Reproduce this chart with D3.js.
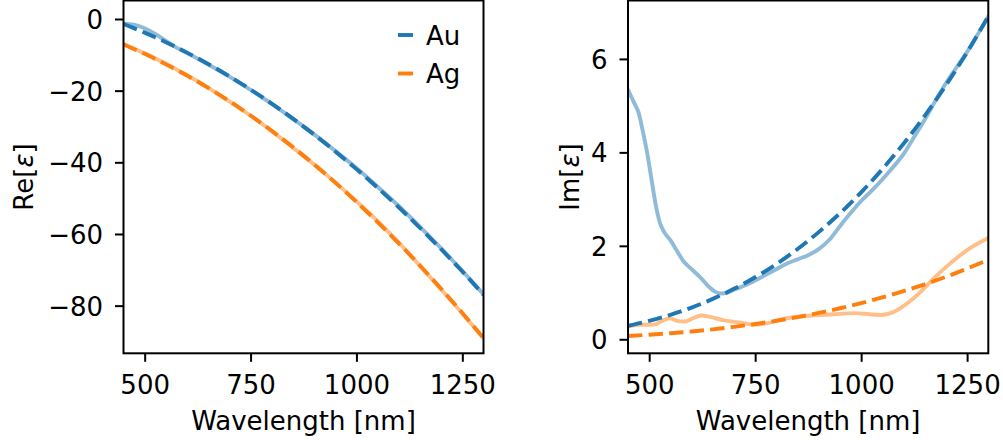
<!DOCTYPE html>
<html><head><meta charset="utf-8">
<script src="https://cdn.jsdelivr.net/npm/d3@7"></script>
<style>
html,body{margin:0;padding:0;background:#fff;}
text{font-family:"DejaVu Sans",sans-serif;font-size:26px;fill:#000;}
</style></head>
<body><svg id="c" width="1003" height="440"></svg>
<script>
// ---- data ----
const xTicks = [500, 750, 1000, 1250];
const reTicks = [0, -20, -40, -60, -80];
const imTicks = [0, 2, 4, 6];
const seriesNames = ["Au", "Ag"];

// fitted (dashed) curves, sampled every 50 nm
const fitWl = [450,500,550,600,650,700,750,800,850,900,950,1000,1050,1100,1150,1200,1250,1300];
const auReFit = [-1.39,-3.8,-6.47,-9.39,-12.56,-15.99,-19.68,-23.61,-27.8,-32.25,-36.95,-41.9,-47.1,-52.57,-58.28,-64.25,-70.48,-76.95];
const agReFit = [-7.1,-9.72,-12.61,-15.78,-19.22,-22.94,-26.93,-31.2,-35.75,-40.57,-45.67,-51.04,-56.69,-62.61,-68.81,-75.28,-82.03,-89.06];
const auImFit = [0.287,0.393,0.523,0.679,0.864,1.079,1.327,1.61,1.931,2.293,2.696,3.145,3.641,4.186,4.783,5.435,6.142,6.91];
const agImFit = [0.07,0.097,0.129,0.167,0.213,0.266,0.327,0.396,0.475,0.564,0.664,0.774,0.896,1.03,1.177,1.337,1.512,1.7];

// measured (light solid) curves
const auReWl = [450,475,500,525,550,575,600,650,700,750,800,850,900,950,1000,1050,1100,1150,1200,1250,1300];
const auReMeas = [-1.3,-1.6,-2.6,-4.2,-6.1,-8.0,-9.5,-12.7,-16.1,-19.8,-23.7,-27.9,-32.2,-36.8,-41.6,-46.8,-52.2,-58.0,-64.0,-70.3,-76.8];
const agReWl = [450,500,550,600,650,700,750,800,850,900,950,1000,1050,1100,1150,1200,1250,1300];
const agReMeas = [-7.0,-9.6,-12.5,-15.7,-19.2,-23.0,-27.0,-31.3,-35.9,-40.6,-45.6,-50.9,-56.4,-62.4,-68.9,-75.5,-82.2,-89.0];
const auImWl = [450,465,475,485,495,505,515,525,535,550,565,580,600,620,640,655,670,685,700,725,750,775,800,825,850,875,900,925,950,975,1000,1025,1050,1075,1100,1125,1150,1175,1200,1250,1300];
const auImMeas = [5.34,5.05,4.85,4.45,4.0,3.45,2.9,2.5,2.3,2.12,1.9,1.68,1.5,1.33,1.13,1.02,0.98,1.0,1.06,1.15,1.26,1.38,1.5,1.62,1.71,1.8,1.93,2.13,2.42,2.7,2.96,3.18,3.42,3.68,3.96,4.33,4.7,5.1,5.48,6.15,6.91];
const agImWl = [450,475,500,515,530,548,568,584,603,623,643,674,713,745,776,824,871,934,983,1046,1078,1109,1141,1172,1211,1250,1300];
const agImMeas = [0.27,0.31,0.31,0.32,0.39,0.45,0.39,0.38,0.45,0.51,0.48,0.41,0.36,0.31,0.34,0.45,0.5,0.535,0.56,0.52,0.59,0.77,1.02,1.31,1.63,1.91,2.17];

const colors = ["#1f77b4", "#ff7f0e"];

// ---- drawing ----
const svg = d3.select("#c");
const zip = (a, b) => a.map((v, i) => [v, b[i]]);
const LW = 3.9, SW = 2.0;

function panel(id, x0, x1, yDomain, yTicks, label, labelX, curves) {
  const y0 = 0.5, y1 = 353.3;
  const x = d3.scaleLinear().domain([450, 1300]).range([x0, x1]);
  const y = d3.scaleLinear().domain(yDomain).range([y1, y0]);
  svg.append("clipPath").attr("id", id).append("rect")
    .attr("x", x0).attr("y", y0).attr("width", x1 - x0).attr("height", y1 - y0);
  const g = svg.append("g").attr("clip-path", `url(#${id})`);
  const line = d3.line().x(d => x(d[0])).y(d => y(d[1])).curve(d3.curveMonotoneX);
  curves.forEach(c => {
    g.append("path").datum(c.data).attr("d", line)
      .attr("fill", "none").attr("stroke", c.color)
      .attr("stroke-width", LW)
      .attr("stroke-opacity", c.dashed ? 1 : 0.5)
      .attr("stroke-dasharray", c.dashed ? "14.4,6.2" : null)
      .attr("stroke-linecap", c.dashed ? "butt" : "square")
      .attr("stroke-linejoin", "round");
  });
  // axes
  const xa = svg.append("g").attr("transform", `translate(0,${y1})`)
    .call(d3.axisBottom(x).tickValues(xTicks).tickSize(8.5).tickPadding(6).tickFormat(d3.format("d")));
  const ya = svg.append("g").attr("transform", `translate(${x0},0)`)
    .call(d3.axisLeft(y).tickValues(yTicks).tickSize(8.5).tickPadding(6).tickFormat(d => d < 0 ? "\u2212" + Math.abs(d) : d));
  [xa, ya].forEach(a => {
    a.select(".domain").remove();
    a.selectAll(".tick line").attr("stroke", "#000").attr("stroke-width", SW);
    a.selectAll(".tick text").attr("fill", "#000").style("font-size", "26px").style("font-family", "DejaVu Sans");
  });
  xa.selectAll(".tick text").attr("dy", null).attr("y", 40.5);
  ya.selectAll(".tick text").attr("dy", "0.36em").attr("x", -20.5);
  // frame
  svg.append("rect").attr("x", x0).attr("y", y0).attr("width", x1 - x0).attr("height", y1 - y0)
    .attr("fill", "none").attr("stroke", "#000").attr("stroke-width", SW);
  // labels
  svg.append("text").attr("x", (x0 + x1) / 2).attr("y", 430).attr("text-anchor", "middle")
    .text("Wavelength [nm]");
  const t = svg.append("text").attr("transform", `translate(${labelX},177) rotate(-90)`).attr("text-anchor", "middle");
  t.append("tspan").text(label + "[");
  t.append("tspan").style("font-style", "italic").text("\u03b5");
  t.append("tspan").text("]");
  return {x, y};
}

panel("clipL", 123.5, 483.5, [-93.3, 5.16], reTicks, "Re", 33, [
  {data: zip(auReWl, auReMeas), color: colors[0], dashed: false},
  {data: zip(agReWl, agReMeas), color: colors[1], dashed: false},
  {data: zip(fitWl, auReFit), color: colors[0], dashed: true},
  {data: zip(fitWl, agReFit), color: colors[1], dashed: true}
]);
panel("clipR", 628.0, 988.3, [-0.30, 7.25], imTicks, "Im", 579, [
  {data: zip(auImWl, auImMeas), color: colors[0], dashed: false},
  {data: zip(agImWl, agImMeas), color: colors[1], dashed: false},
  {data: zip(fitWl, auImFit), color: colors[0], dashed: true},
  {data: zip(fitWl, agImFit), color: colors[1], dashed: true}
]);

// legend
const leg = svg.append("g");
seriesNames.forEach((n, i) => {
  const yy = 35 + i * 38.5;
  leg.append("line").attr("x1", 398).attr("x2", 413).attr("y1", yy).attr("y2", yy)
    .attr("stroke", colors[i]).attr("stroke-width", LW);
  leg.append("text").attr("x", 426).attr("y", yy + 9.5).text(n);
});
</script></body></html>
